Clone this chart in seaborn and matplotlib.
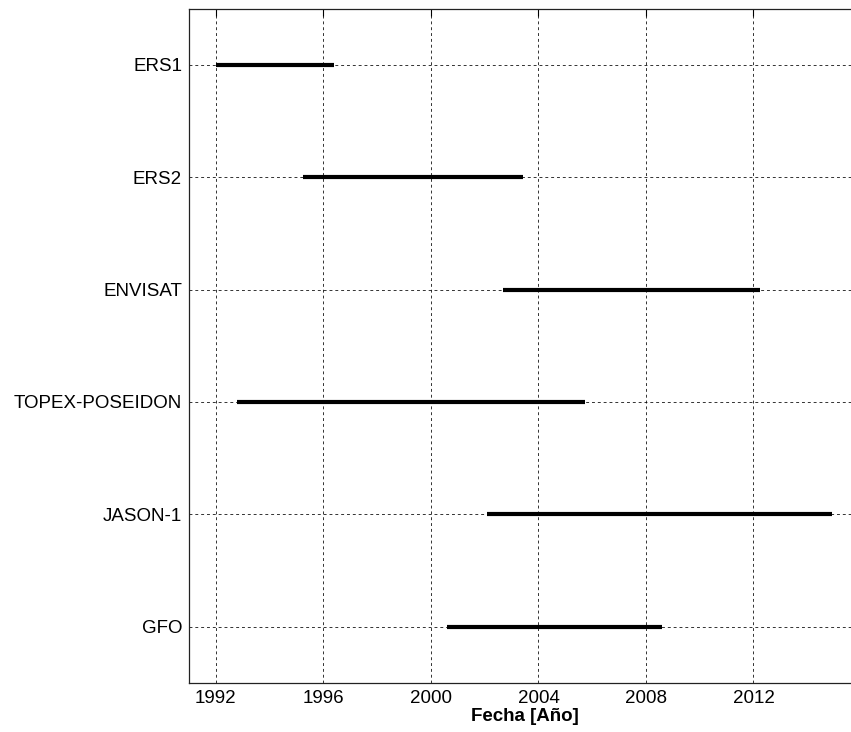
import matplotlib
matplotlib.use("Agg")
import matplotlib.pyplot as plt
import seaborn as sns
import pandas as pd

satellites = ["ERS1", "ERS2", "ENVISAT", "TOPEX-POSEIDON", "JASON-1", "GFO"]
start_year = [1992.0, 1995.25, 2002.67, 1992.77, 2002.09, 2000.58]
end_year = [1996.40, 2003.41, 2012.25, 2005.73, 2014.93, 2008.59]
xticks = [1992, 1996, 2000, 2004, 2008, 2012]

rows = []
for i, (s, a, b) in enumerate(zip(satellites, start_year, end_year)):
    rows.append({"sat": s, "pos": i, "year": a})
    rows.append({"sat": s, "pos": i, "year": b})
df = pd.DataFrame(rows)

sns.set_theme(style="white")
plt.rcParams["font.family"] = ["Liberation Sans", "DejaVu Sans"]

fig = plt.figure(figsize=(8.51, 7.32), dpi=100)
ax = fig.add_axes([189 / 851, 49 / 732, (861 - 189) / 851, (683 - 8.5) / 732])

sns.lineplot(data=df, x="year", y="pos", units="sat", estimator=None, sort=False,
             color="black", linewidth=3.0, ax=ax, legend=False, zorder=3,
             solid_capstyle="butt")

ax.set_xlim(1991, 2016)
ax.set_ylim(len(satellites) - 0.5, -0.5)
ax.set_xticks(xticks)
ax.set_xticklabels([str(t) for t in xticks])
ax.set_yticks(range(len(satellites)))
ax.set_yticklabels(satellites)

ax.grid(True, color="black", linestyle=(0, (3, 3)), linewidth=0.7, alpha=0.8)
ax.set_axisbelow(True)

ax.tick_params(axis="both", direction="in", length=5, width=0.8, colors="black",
               labelsize=13.5, top=True, right=False, pad=5)
for s in ["left", "bottom", "top"]:
    ax.spines[s].set_color("#222222")
    ax.spines[s].set_linewidth(0.9)
ax.spines["right"].set_visible(False)

ax.set_ylabel("")
ax.set_xlabel("Fecha [Año]", fontsize=13.5, fontweight="bold", labelpad=1,
              color="black")

fig.savefig("out.png", dpi=100)
